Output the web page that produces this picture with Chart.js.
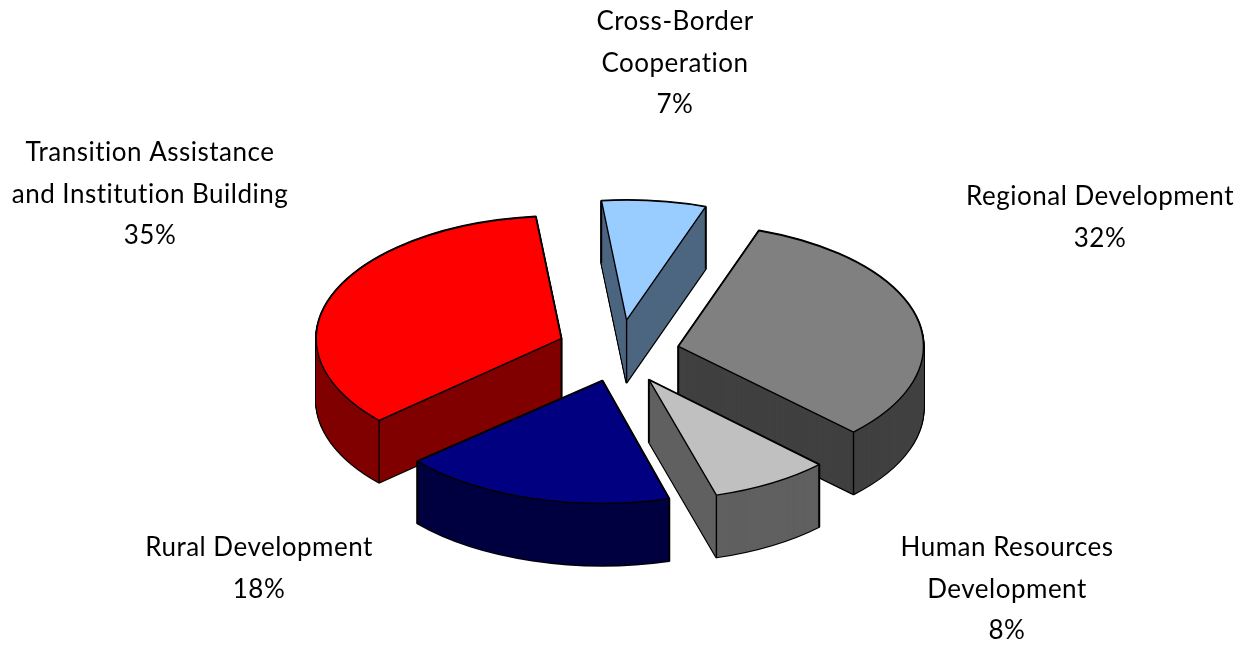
<!DOCTYPE html>
<html>
<head>
<meta charset="utf-8">
<style>
  html, body { margin: 0; padding: 0; background: #fff; }
  canvas { display: block; }
</style>
<script src="https://cdn.jsdelivr.net/npm/chart.js@4"></script>
</head>
<body>
<canvas id="pie" width="1246" height="645"></canvas>
<script>
const categories = [
  ["Cross-Border", "Cooperation"],
  ["Regional Development"],
  ["Human Resources", "Development"],
  ["Rural Development"],
  ["Transition Assistance", "and Institution Building"]
];
const shares = [7, 32, 8, 18, 35];

const topColors = ["#99ccff", "#808080", "#c0c0c0", "#000080", "#ff0000"];
const wallColors = ["#4d6680", "#404040", "#606060", "#000040", "#800000"];
const explode = [66, 58, 56, 58, 64];
// the original has some perspective, these bring each slice back in line
const nudge = [[-3, 0], [0, 0], [-2, 3], [-4, 0], [-1, -3]];
const twist = [0, 0, 0.5, 1, 0];
const shrink = [0.98, 1, 0.98, 1, 1];
const labelAnchors = [[675, 22], [1100, 197], [1007, 548], [259, 548], [150, 153]];

const TILT = 0.5;
const DEPTH = 62;
const drawOrder = [0, 4, 1, 2, 3]; // back to front

function sliceGeom(arc, i) {
  const mid = (arc.startAngle + arc.endAngle) / 2;
  const off = explode[i];
  const turn = twist[i] * Math.PI / 180;
  return {
    x: arc.x + Math.cos(mid) * off + nudge[i][0],
    y: arc.y + Math.sin(mid) * off * TILT + nudge[i][1],
    rx: arc.outerRadius * shrink[i],
    ry: arc.outerRadius * shrink[i] * TILT,
    a0: arc.startAngle + turn,
    a1: arc.endAngle + turn
  };
}

function slicePath(ctx, g, dy) {
  ctx.beginPath();
  ctx.moveTo(g.x, g.y + dy);
  ctx.ellipse(g.x, g.y + dy, g.rx, g.ry, 0, g.a0, g.a1);
  ctx.closePath();
}

const pie3d = {
  id: "pie3d",
  beforeDatasetsDraw(chart) {
    const ctx = chart.ctx;
    const arcs = chart.getDatasetMeta(0).data;
    ctx.save();
    ctx.lineJoin = "round";
    drawOrder.forEach(i => {
      const g = sliceGeom(arcs[i], i);
      // black blob first, the wall fill leaves only its outer edge
      ctx.strokeStyle = "#000";
      ctx.lineWidth = 2.4;
      for (let dy = DEPTH; dy >= 0; dy--) {
        slicePath(ctx, g, dy);
        ctx.stroke();
      }
      ctx.fillStyle = wallColors[i];
      for (let dy = DEPTH; dy >= 0; dy--) {
        slicePath(ctx, g, dy);
        ctx.fill();
      }
      // corner edges, the top face hides the ones at the back
      const corners = [
        [g.x + Math.cos(g.a0) * g.rx, g.y + Math.sin(g.a0) * g.ry],
        [g.x + Math.cos(g.a1) * g.rx, g.y + Math.sin(g.a1) * g.ry],
        [g.x, g.y]
      ];
      ctx.lineWidth = 1.4;
      corners.forEach(p => {
        ctx.beginPath();
        ctx.moveTo(p[0], p[1]);
        ctx.lineTo(p[0], p[1] + DEPTH);
        ctx.stroke();
      });
      slicePath(ctx, g, 0);
      ctx.fillStyle = topColors[i];
      ctx.fill();
      ctx.lineWidth = 1.4;
      ctx.stroke();
    });
    ctx.restore();
    return false; // the flat arcs are not wanted
  },
  afterDraw(chart) {
    const ctx = chart.ctx;
    ctx.save();
    ctx.font = "26px Lato";
    ctx.letterSpacing = "0.5px";
    ctx.fillStyle = "#000";
    ctx.textAlign = "center";
    ctx.textBaseline = "middle";
    categories.forEach((lines, i) => {
      const rows = lines.concat(shares[i] + "%");
      rows.forEach((t, r) => {
        ctx.fillText(t, labelAnchors[i][0], labelAnchors[i][1] + r * 41.5);
      });
    });
    ctx.restore();
  }
};

new Chart(document.getElementById("pie"), {
  type: "pie",
  data: {
    labels: categories.map(c => c.join(" ")),
    datasets: [{
      data: shares,
      backgroundColor: topColors,
      offset: explode,
      borderWidth: 0
    }]
  },
  options: {
    responsive: false,
    animation: false,
    rotation: -6,
    radius: 245,
    layout: { padding: { top: 61, right: 2 } },
    plugins: {
      legend: { display: false },
      tooltip: { enabled: false }
    }
  },
  plugins: [pie3d]
});
</script>
</body>
</html>
